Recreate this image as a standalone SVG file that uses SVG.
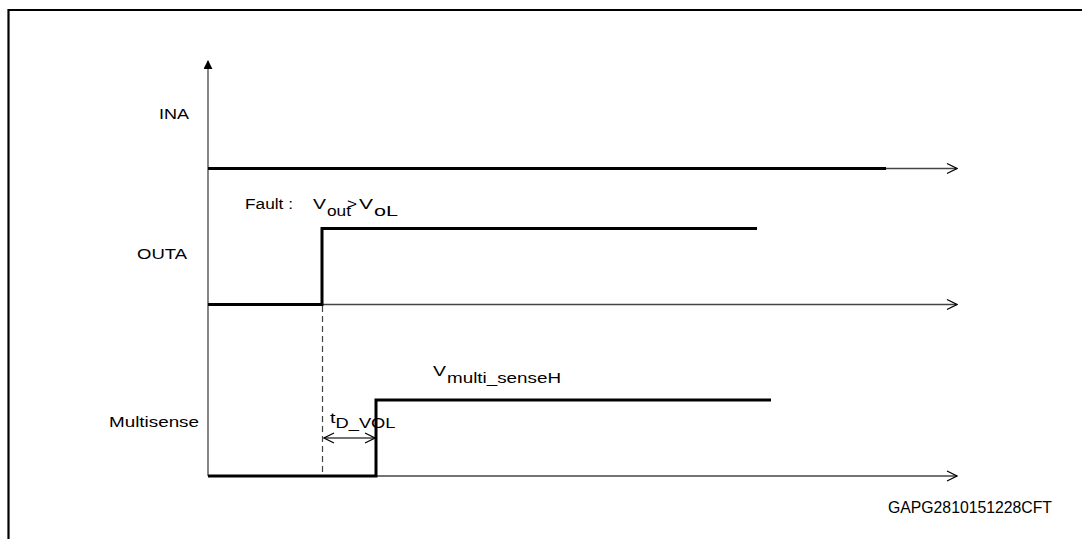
<svg xmlns="http://www.w3.org/2000/svg" width="1082" height="539" viewBox="0 0 1082 539">
<defs>
<marker id="open" viewBox="0 0 12 12" refX="11" refY="6" markerWidth="12" markerHeight="12" markerUnits="userSpaceOnUse" orient="auto">
<path d="M1,1 L11,6 L1,11" fill="none" stroke="#000" stroke-width="1.2"/>
</marker>
<marker id="openS" viewBox="0 0 12 12" refX="11" refY="6" markerWidth="12" markerHeight="12" markerUnits="userSpaceOnUse" orient="auto-start-reverse">
<path d="M1,1 L11,6 L1,11" fill="none" stroke="#000" stroke-width="1.2"/>
</marker>
<marker id="fill" viewBox="0 0 10 10" refX="9" refY="5" markerWidth="9" markerHeight="9" markerUnits="userSpaceOnUse" orient="auto">
<path d="M0,0 L10,5 L0,10 Z" fill="#000"/>
</marker>
</defs>
<style>
.t{font-family:"Liberation Sans",Arial,sans-serif;font-size:15.5px;fill:#000}
.g{font-size:16px}
.ax{stroke:#444;stroke-width:1.3;fill:none}
.sig{stroke:#000;stroke-width:3;fill:none}
.dash{stroke:#444;stroke-width:1.2;stroke-dasharray:6 4;fill:none}
</style>
<rect width="1082" height="539" fill="#fff"/>
<g id="frame">
<path d="M8.5,545 L8.5,10 L1090,10" stroke="#000" stroke-width="2.2" fill="none"/>
</g>
<g id="connectors">
<line class="ax" x1="208" y1="476" x2="208" y2="61" marker-end="url(#fill)"/>
<line class="ax" x1="208" y1="168.5" x2="957" y2="168.5" marker-end="url(#open)"/>
<line class="ax" x1="208" y1="304.5" x2="957" y2="304.5" marker-end="url(#open)"/>
<line class="ax" x1="208" y1="476" x2="957" y2="476" marker-end="url(#open)"/>
<line class="dash" x1="322.5" y1="306" x2="322.5" y2="476"/>
<line class="ax" x1="324" y1="438" x2="375" y2="438" marker-start="url(#openS)" marker-end="url(#openS)"/>
</g>
<g id="INA">
<polyline class="sig" points="208,168.5 886,168.5"/>
<text class="t" x="159" y="119" textLength="30" lengthAdjust="spacingAndGlyphs">INA</text>
</g>
<g id="OUTA">
<polyline class="sig" points="208,304.5 322,304.5 322,228.5 757,228.5"/>
<text class="t" x="137" y="259" textLength="50" lengthAdjust="spacingAndGlyphs">OUTA</text>
<text class="t" x="245" y="209" textLength="48" lengthAdjust="spacingAndGlyphs">Fault :</text>
<text class="t" x="313" y="209" textLength="13" lengthAdjust="spacingAndGlyphs">V</text>
<text class="t" x="327" y="216" textLength="24" lengthAdjust="spacingAndGlyphs">out</text>
<text class="t" x="347" y="209" textLength="10" lengthAdjust="spacingAndGlyphs">&gt;</text>
<text class="t" x="359" y="209" textLength="14" lengthAdjust="spacingAndGlyphs">V</text>
<text class="t" x="374" y="216" textLength="24" lengthAdjust="spacingAndGlyphs">oL</text>
</g>
<g id="Multisense">
<polyline class="sig" points="208,476 376,476 376,400 771,400"/>
<text class="t" x="109" y="427" textLength="90" lengthAdjust="spacingAndGlyphs">Multisense</text>
<text class="t" x="433" y="376" textLength="13" lengthAdjust="spacingAndGlyphs">V</text>
<text class="t" x="447" y="383" textLength="114" lengthAdjust="spacingAndGlyphs">multi_senseH</text>
<text class="t" x="330" y="423" textLength="5.5" lengthAdjust="spacingAndGlyphs">t</text>
<text class="t" x="335.5" y="428" textLength="60" lengthAdjust="spacingAndGlyphs">D_VOL</text>
</g>
<g id="ref">
<text class="t g" x="888" y="513" textLength="164" lengthAdjust="spacingAndGlyphs">GAPG2810151228CFT</text>
</g>
</svg>
